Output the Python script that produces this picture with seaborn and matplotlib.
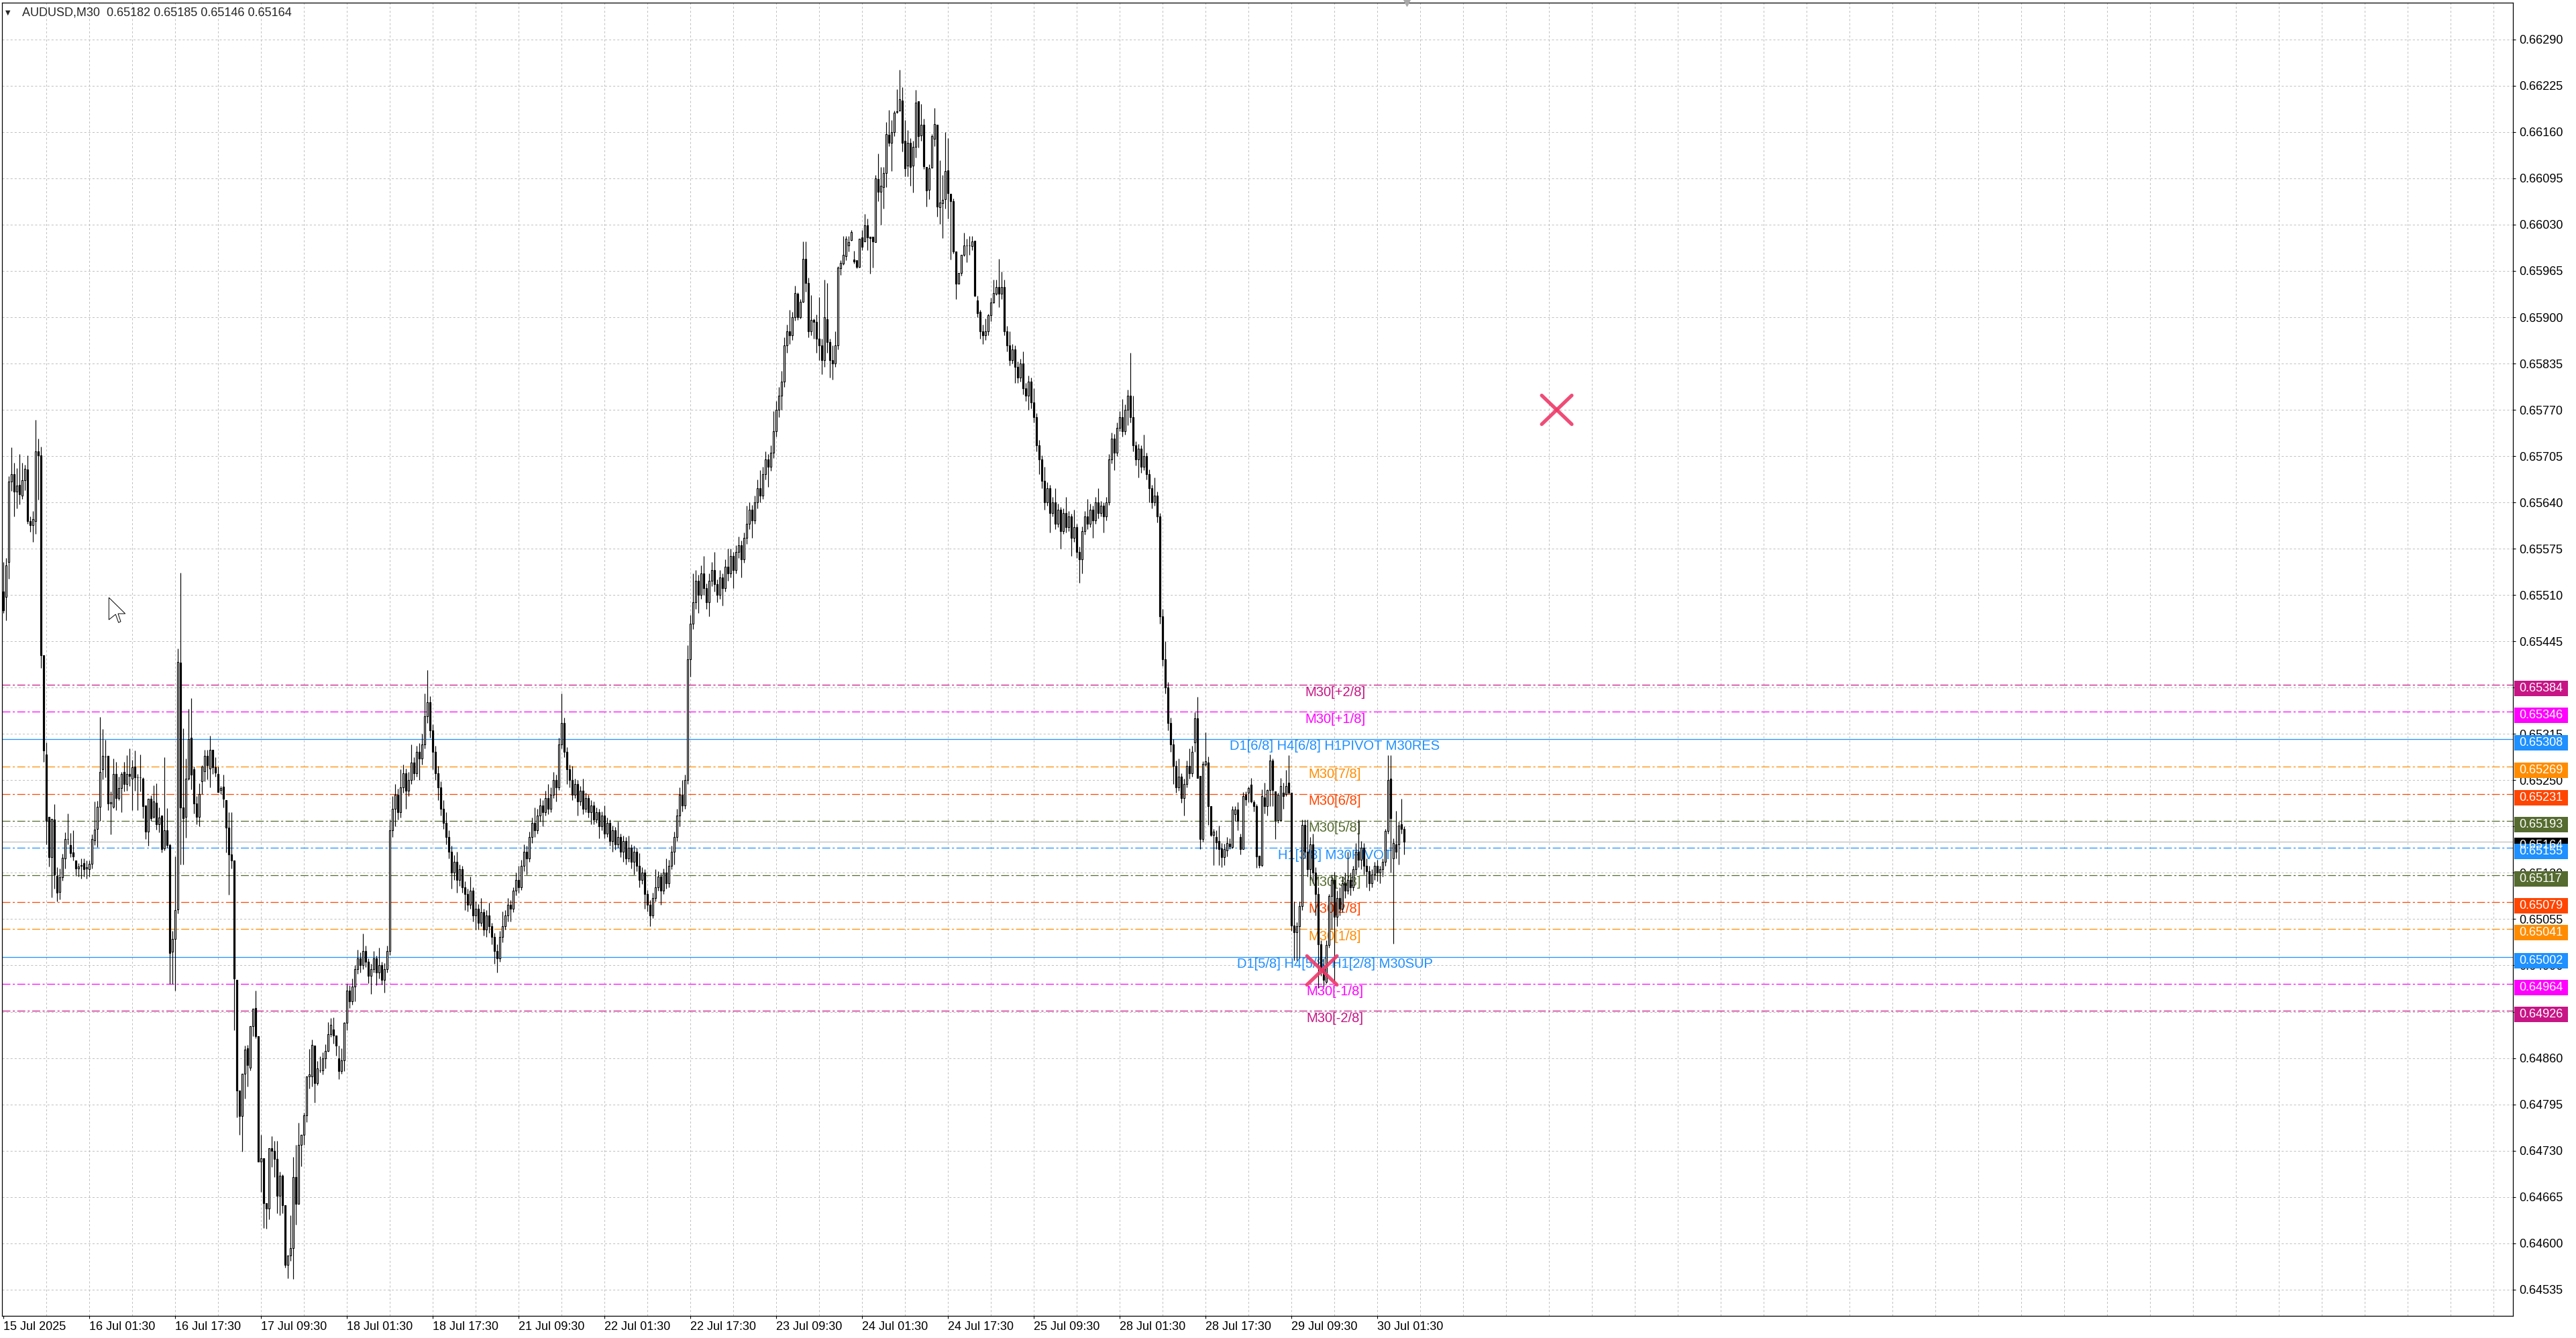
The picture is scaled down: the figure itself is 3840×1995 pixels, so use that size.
import numpy as np
import pandas as pd
import matplotlib
matplotlib.use("Agg")
import matplotlib.pyplot as plt
import matplotlib.transforms as mtransforms
from matplotlib.patches import Polygon, Rectangle
import seaborn as sns

# ==========================================
# 数据：AUDUSD M30 K线 (价格 = 0.64 + 值 * 0.00001)
# ==========================================
title_text = "AUDUSD,M30  0.65182 0.65185 0.65146 0.65164"

open_pts = [
    1515, 1507, 1556, 1669, 1680, 1655, 1665, 1650, 1671, 1686,
    1614, 1608, 1614, 1712, 1706, 1425, 1286, 1199, 1142, 1195,
    1116, 1093, 1114, 1140, 1167, 1159, 1149, 1137, 1126, 1130,
    1134, 1126, 1125, 1133, 1166, 1182, 1213, 1265, 1283, 1284,
    1217, 1213, 1259, 1225, 1239, 1262, 1245, 1259, 1252, 1269,
    1254, 1254, 1252, 1215, 1178, 1224, 1199, 1218, 1188, 1200,
    1154, 1180, 1159, 1009, 1027, 1069, 1415, 1212, 1199, 1252,
    1310, 1265, 1217, 1199, 1248, 1263, 1284, 1266, 1293, 1268,
    1259, 1236, 1241, 1222, 1183, 1146, 1137, 970, 814, 779,
    838, 874, 846, 905, 930, 891, 715, 719, 656, 649,
    733, 730, 718, 667, 695, 653, 570, 583, 593, 693,
    655, 738, 752, 780, 834, 834, 877, 825, 843, 843,
    860, 870, 893, 900, 892, 860, 842, 857, 909, 955,
    940, 960, 985, 1000, 990, 1010, 995, 975, 985, 1000,
    980, 990, 970, 985, 1010, 1180, 1210, 1230, 1205, 1240,
    1260, 1235, 1250, 1275, 1260, 1290, 1280, 1300, 1340, 1360,
    1320, 1290, 1260, 1240, 1210, 1190, 1170, 1150, 1120, 1135,
    1110, 1125, 1100, 1090, 1075, 1095, 1060, 1070, 1050, 1065,
    1040, 1060, 1045, 1030, 1010, 1000, 1030, 1045, 1060, 1075,
    1070, 1095, 1110, 1100, 1130, 1150, 1140, 1170, 1190, 1180,
    1200, 1215, 1205, 1225, 1210, 1230, 1250, 1240, 1300, 1330,
    1290, 1265, 1250, 1230, 1245, 1220, 1235, 1210, 1225, 1205,
    1215, 1195, 1205, 1185, 1200, 1175, 1190, 1165, 1180, 1160,
    1170, 1150, 1165, 1140, 1155, 1135, 1150, 1130, 1110, 1120,
    1090, 1075, 1060, 1085, 1100, 1115, 1095, 1120, 1105, 1130,
    1150, 1170, 1200, 1230, 1215, 1250, 1420, 1470, 1500, 1530,
    1510, 1540, 1520, 1500, 1530, 1545, 1525, 1510, 1535, 1520,
    1550, 1540, 1565, 1545, 1570, 1580, 1560, 1590, 1610, 1630,
    1615, 1640, 1660, 1650, 1680, 1700, 1690, 1710, 1740, 1770,
    1790, 1810, 1860, 1880, 1875, 1900, 1933, 1900, 1922, 1982,
    1948, 1880, 1896, 1893, 1870, 1860, 1840, 1897, 1865, 1840,
    1835, 1860, 1969, 1975, 1986, 2001, 2008, 1981, 1980, 1971,
    2012, 2006, 2029, 2013, 2013, 2005, 2094, 2076, 2083, 2102,
    2156, 2145, 2160, 2188, 2190, 2204, 2148, 2113, 2145, 2113,
    2139, 2203, 2155, 2170, 2111, 2079, 2110, 2150, 2170, 2054,
    2060, 2066, 2106, 2073, 2063, 1992, 1947, 1962, 1988, 2001,
    2001, 2000, 2007, 1924, 1908, 1880, 1875, 1880, 1903, 1921,
    1933, 1942, 1933, 1942, 1880, 1860, 1840, 1855, 1830, 1815,
    1835, 1800, 1790, 1810, 1780, 1760, 1720, 1700, 1670, 1640,
    1660, 1625, 1640, 1610, 1630, 1600, 1625, 1605, 1620, 1590,
    1605, 1570, 1560, 1600, 1620, 1610, 1630, 1615, 1640, 1625,
    1635, 1620, 1640, 1700, 1730, 1710, 1745, 1760, 1740, 1770,
    1790, 1760, 1720, 1700, 1715, 1690, 1705, 1680, 1660, 1640,
    1650, 1620, 1480, 1420, 1380, 1330, 1300, 1270, 1240, 1255,
    1225, 1245, 1270, 1260, 1303, 1337, 1256, 1167, 1272, 1275,
    1214, 1173, 1170, 1165, 1154, 1142, 1151, 1161, 1156, 1202,
    1209, 1170, 1153, 1230, 1232, 1244, 1219, 1214, 1144, 1131,
    1226, 1214, 1236, 1278, 1234, 1194, 1194, 1232, 1231, 1247,
    1232, 1046, 1037, 1045, 1073, 1187, 1150, 1125, 1160, 1120,
    1090, 1020, 985, 967, 1019, 1087, 1110, 1058, 1085, 1070,
    1105, 1095, 1110, 1100, 1125, 1150, 1138, 1155, 1130, 1122,
    1105, 1118, 1130, 1120, 1125, 1135, 1179, 1252, 1140, 1160,
    1160, 1188, 1182]
high_pts = [
    1556, 1562, 1677, 1717, 1696, 1688, 1708, 1696, 1693, 1706,
    1620, 1628, 1756, 1730, 1718, 1425, 1303, 1199, 1196, 1216,
    1128, 1126, 1147, 1177, 1203, 1176, 1180, 1137, 1134, 1140,
    1140, 1137, 1137, 1174, 1220, 1221, 1339, 1322, 1307, 1284,
    1234, 1280, 1276, 1255, 1262, 1276, 1285, 1295, 1279, 1292,
    1259, 1286, 1254, 1215, 1224, 1229, 1243, 1246, 1212, 1200,
    1282, 1211, 1161, 1038, 1143, 1435, 1541, 1323, 1280, 1350,
    1365, 1269, 1228, 1246, 1271, 1293, 1293, 1312, 1293, 1282,
    1269, 1242, 1258, 1222, 1205, 1205, 1137, 970, 814, 838,
    877, 878, 905, 929, 955, 891, 752, 719, 656, 733,
    750, 744, 744, 700, 697, 653, 583, 639, 721, 738,
    769, 752, 783, 834, 873, 886, 877, 856, 862, 868,
    879, 910, 916, 917, 892, 877, 874, 910, 964, 962,
    972, 990, 1012, 1008, 1035, 1018, 1000, 992, 1010, 1004,
    1015, 995, 993, 1018, 1195, 1228, 1245, 1238, 1265, 1272,
    1266, 1262, 1300, 1282, 1298, 1302, 1315, 1372, 1405, 1368,
    1328, 1298, 1270, 1248, 1222, 1205, 1180, 1158, 1145, 1150,
    1132, 1130, 1108, 1098, 1115, 1100, 1080, 1076, 1085, 1070,
    1068, 1078, 1050, 1036, 1020, 1038, 1066, 1068, 1085, 1082,
    1100, 1120, 1130, 1138, 1160, 1158, 1178, 1198, 1212, 1210,
    1225, 1222, 1235, 1245, 1240, 1262, 1258, 1310, 1372, 1338,
    1296, 1272, 1270, 1252, 1250, 1242, 1252, 1232, 1230, 1222,
    1220, 1212, 1210, 1206, 1215, 1198, 1195, 1186, 1184, 1192,
    1175, 1172, 1170, 1172, 1160, 1158, 1155, 1148, 1128, 1125,
    1096, 1082, 1092, 1125, 1122, 1120, 1126, 1140, 1138, 1158,
    1178, 1210, 1240, 1250, 1258, 1440, 1482, 1540, 1545, 1538,
    1552, 1565, 1526, 1540, 1556, 1570, 1532, 1545, 1540, 1560,
    1575, 1575, 1570, 1580, 1592, 1586, 1598, 1635, 1640, 1636,
    1650, 1672, 1685, 1690, 1712, 1708, 1720, 1768, 1782, 1802,
    1825, 1872, 1890, 1910, 1908, 1944, 1935, 1925, 2006, 2006,
    1956, 1931, 1898, 1904, 1928, 1870, 1953, 1948, 1870, 1860,
    1880, 1972, 1980, 2014, 2014, 2014, 2022, 1993, 1980, 2010,
    2022, 2045, 2038, 2013, 2013, 2100, 2130, 2111, 2111, 2174,
    2191, 2177, 2190, 2220, 2247, 2223, 2177, 2163, 2151, 2148,
    2219, 2203, 2199, 2179, 2111, 2115, 2157, 2194, 2170, 2120,
    2100, 2160, 2151, 2073, 2067, 1992, 1962, 1988, 2019, 2010,
    2014, 2014, 2007, 1930, 1910, 1890, 1898, 1905, 1927, 1953,
    1953, 1982, 1964, 1953, 1888, 1880, 1862, 1860, 1838, 1842,
    1852, 1808, 1818, 1815, 1800, 1765, 1728, 1706, 1690, 1668,
    1665, 1648, 1660, 1638, 1634, 1632, 1648, 1628, 1624, 1630,
    1610, 1578, 1606, 1628, 1645, 1638, 1635, 1648, 1660, 1642,
    1640, 1648, 1708, 1738, 1736, 1752, 1768, 1785, 1778, 1798,
    1850, 1790, 1726, 1722, 1720, 1735, 1710, 1686, 1665, 1675,
    1655, 1625, 1490, 1445, 1388, 1338, 1308, 1278, 1280, 1260,
    1252, 1278, 1295, 1298, 1345, 1367, 1256, 1277, 1317, 1283,
    1214, 1182, 1180, 1186, 1162, 1161, 1170, 1168, 1214, 1214,
    1219, 1175, 1233, 1234, 1241, 1253, 1222, 1216, 1144, 1237,
    1247, 1237, 1286, 1280, 1234, 1232, 1253, 1247, 1264, 1285,
    1232, 1080, 1051, 1080, 1195, 1195, 1195, 1170, 1175, 1128,
    1100, 1025, 1000, 1025, 1090, 1118, 1121, 1095, 1100, 1115,
    1120, 1150, 1120, 1130, 1162, 1195, 1165, 1162, 1140, 1130,
    1125, 1135, 1138, 1130, 1140, 1182, 1285, 1285, 1168, 1207,
    1192, 1224, 1185]
low_pts = [
    1485, 1474, 1533, 1656, 1620, 1632, 1637, 1645, 1657, 1610,
    1599, 1585, 1596, 1644, 1408, 1276, 1160, 1129, 1086, 1098,
    1080, 1083, 1109, 1126, 1160, 1142, 1137, 1116, 1115, 1112,
    1115, 1112, 1115, 1126, 1159, 1156, 1193, 1251, 1254, 1208,
    1174, 1211, 1208, 1222, 1205, 1234, 1235, 1242, 1208, 1235,
    1208, 1234, 1197, 1167, 1158, 1193, 1197, 1181, 1177, 1149,
    1151, 1155, 964, 964, 955, 1063, 1132, 1132, 1169, 1250,
    1237, 1203, 1188, 1185, 1231, 1248, 1251, 1240, 1259, 1255,
    1233, 1231, 1212, 1149, 1089, 1126, 899, 777, 752, 729,
    803, 820, 843, 891, 888, 715, 672, 621, 620, 634,
    707, 693, 642, 639, 642, 566, 551, 575, 550, 626,
    655, 708, 738, 770, 817, 820, 797, 822, 840, 837,
    845, 869, 890, 880, 863, 830, 838, 842, 899, 930,
    935, 940, 978, 980, 985, 988, 965, 950, 980, 962,
    972, 963, 952, 980, 1005, 1170, 1185, 1195, 1198, 1232,
    1210, 1228, 1245, 1250, 1255, 1250, 1272, 1295, 1330, 1310,
    1265, 1250, 1222, 1200, 1182, 1160, 1140, 1098, 1110, 1092,
    1102, 1092, 1068, 1066, 1070, 1052, 1040, 1040, 1045, 1032,
    1030, 1036, 1020, 992, 980, 995, 1022, 1040, 1052, 1052,
    1065, 1088, 1092, 1096, 1122, 1118, 1135, 1162, 1170, 1175,
    1192, 1185, 1200, 1202, 1205, 1225, 1220, 1236, 1295, 1282,
    1245, 1240, 1222, 1225, 1200, 1215, 1202, 1205, 1198, 1188,
    1188, 1190, 1168, 1180, 1168, 1170, 1158, 1150, 1152, 1155,
    1142, 1135, 1132, 1135, 1126, 1118, 1122, 1100, 1104, 1070,
    1066, 1045, 1056, 1080, 1095, 1075, 1090, 1098, 1100, 1125,
    1132, 1165, 1185, 1206, 1210, 1245, 1395, 1462, 1490, 1485,
    1505, 1510, 1490, 1480, 1522, 1515, 1500, 1505, 1495, 1515,
    1530, 1535, 1520, 1540, 1562, 1535, 1555, 1582, 1602, 1590,
    1610, 1632, 1640, 1645, 1672, 1662, 1684, 1702, 1732, 1760,
    1770, 1802, 1850, 1862, 1868, 1895, 1896, 1898, 1921, 1936,
    1872, 1875, 1870, 1850, 1840, 1820, 1830, 1850, 1815, 1812,
    1830, 1855, 1959, 1973, 1980, 1992, 2007, 1975, 1969, 1970,
    1994, 2006, 1994, 1961, 1970, 2005, 2063, 2030, 2053, 2083,
    2140, 2105, 2154, 2186, 2190, 2133, 2098, 2098, 2085, 2075,
    2124, 2138, 2148, 2108, 2055, 2066, 2110, 2140, 2041, 2031,
    2011, 2053, 2038, 1981, 1989, 1925, 1947, 1958, 1986, 1977,
    1988, 1994, 1929, 1900, 1870, 1862, 1868, 1875, 1894, 1920,
    1931, 1914, 1925, 1875, 1852, 1832, 1835, 1808, 1808, 1810,
    1792, 1782, 1770, 1772, 1752, 1712, 1680, 1660, 1630, 1635,
    1598, 1620, 1602, 1605, 1575, 1596, 1598, 1600, 1565, 1585,
    1562, 1527, 1540, 1595, 1602, 1605, 1590, 1610, 1618, 1620,
    1598, 1615, 1636, 1695, 1685, 1705, 1740, 1732, 1735, 1748,
    1752, 1712, 1692, 1675, 1682, 1685, 1672, 1640, 1632, 1635,
    1612, 1470, 1410, 1372, 1320, 1290, 1245, 1232, 1235, 1218,
    1200, 1240, 1252, 1255, 1290, 1253, 1153, 1164, 1270, 1187,
    1171, 1131, 1153, 1131, 1128, 1131, 1143, 1153, 1154, 1193,
    1180, 1146, 1153, 1215, 1219, 1218, 1206, 1127, 1127, 1129,
    1203, 1200, 1214, 1214, 1167, 1190, 1194, 1210, 1228, 1231,
    1038, 997, 997, 1000, 1068, 1140, 1115, 1110, 1105, 1060,
    958, 975, 960, 965, 1015, 1040, 968, 1045, 1060, 1065,
    1085, 1090, 1088, 1095, 1118, 1128, 1125, 1118, 1100, 1095,
    1100, 1110, 1108, 1105, 1115, 1130, 1175, 1120, 1021, 1140,
    1132, 1175, 1146]
close_pts = [
    1489, 1552, 1669, 1680, 1655, 1664, 1651, 1671, 1687, 1614,
    1608, 1617, 1712, 1706, 1425, 1292, 1193, 1142, 1196, 1118,
    1092, 1114, 1141, 1167, 1167, 1148, 1143, 1126, 1129, 1131,
    1125, 1128, 1133, 1167, 1181, 1213, 1262, 1284, 1283, 1217,
    1219, 1259, 1225, 1239, 1259, 1245, 1259, 1256, 1268, 1254,
    1254, 1254, 1214, 1178, 1224, 1197, 1220, 1188, 1198, 1153,
    1180, 1159, 1007, 1027, 1068, 1416, 1212, 1197, 1252, 1308,
    1258, 1217, 1199, 1231, 1269, 1284, 1271, 1293, 1268, 1261,
    1233, 1239, 1224, 1183, 1146, 1137, 972, 814, 779, 838,
    872, 850, 905, 929, 891, 715, 719, 656, 649, 733,
    730, 718, 667, 695, 653, 570, 583, 593, 693, 655,
    738, 752, 780, 834, 837, 878, 825, 845, 843, 860,
    870, 893, 907, 892, 877, 842, 857, 909, 955, 940,
    960, 985, 1000, 990, 1010, 995, 975, 985, 1000, 980,
    990, 970, 985, 1010, 1180, 1210, 1230, 1205, 1240, 1260,
    1235, 1250, 1275, 1260, 1290, 1280, 1300, 1340, 1360, 1320,
    1290, 1260, 1240, 1210, 1190, 1170, 1150, 1120, 1135, 1110,
    1125, 1100, 1090, 1075, 1095, 1060, 1070, 1050, 1065, 1040,
    1060, 1045, 1030, 1010, 1000, 1030, 1045, 1060, 1075, 1070,
    1095, 1110, 1100, 1130, 1150, 1140, 1170, 1190, 1180, 1200,
    1215, 1205, 1225, 1210, 1230, 1250, 1240, 1300, 1330, 1290,
    1265, 1250, 1230, 1245, 1220, 1235, 1210, 1225, 1205, 1215,
    1195, 1205, 1185, 1200, 1175, 1190, 1165, 1180, 1160, 1170,
    1150, 1165, 1140, 1155, 1135, 1150, 1130, 1110, 1120, 1090,
    1075, 1060, 1085, 1100, 1115, 1095, 1120, 1105, 1130, 1150,
    1170, 1200, 1230, 1215, 1250, 1420, 1470, 1500, 1530, 1510,
    1540, 1520, 1500, 1530, 1545, 1525, 1510, 1535, 1520, 1550,
    1540, 1565, 1545, 1570, 1580, 1560, 1590, 1610, 1630, 1615,
    1640, 1660, 1650, 1680, 1700, 1690, 1710, 1740, 1770, 1790,
    1810, 1860, 1880, 1875, 1900, 1934, 1900, 1922, 1982, 1948,
    1880, 1896, 1893, 1870, 1860, 1840, 1900, 1865, 1840, 1835,
    1860, 1970, 1976, 1988, 2010, 2005, 2020, 1978, 1971, 2010,
    1999, 2029, 2012, 2011, 2006, 2095, 2076, 2085, 2102, 2157,
    2145, 2160, 2187, 2189, 2206, 2145, 2109, 2145, 2111, 2139,
    2201, 2154, 2170, 2112, 2078, 2109, 2154, 2171, 2055, 2061,
    2065, 2105, 2074, 2063, 1992, 1947, 1962, 1988, 2001, 2001,
    2001, 2006, 1930, 1906, 1880, 1875, 1880, 1903, 1921, 1934,
    1942, 1933, 1942, 1880, 1860, 1840, 1855, 1830, 1815, 1835,
    1800, 1790, 1810, 1780, 1760, 1720, 1700, 1670, 1640, 1660,
    1625, 1640, 1610, 1630, 1600, 1625, 1605, 1620, 1590, 1605,
    1570, 1560, 1600, 1620, 1610, 1630, 1615, 1640, 1625, 1635,
    1620, 1640, 1700, 1730, 1710, 1745, 1760, 1740, 1770, 1790,
    1760, 1720, 1700, 1715, 1690, 1705, 1680, 1660, 1640, 1650,
    1620, 1480, 1420, 1380, 1330, 1300, 1270, 1240, 1255, 1225,
    1245, 1270, 1260, 1290, 1337, 1253, 1167, 1273, 1277, 1214,
    1173, 1178, 1163, 1153, 1142, 1153, 1162, 1157, 1209, 1209,
    1193, 1153, 1228, 1223, 1239, 1220, 1214, 1143, 1131, 1228,
    1214, 1236, 1278, 1236, 1194, 1230, 1242, 1228, 1242, 1232,
    1046, 1037, 1045, 1073, 1187, 1150, 1125, 1160, 1120, 1090,
    1020, 985, 970, 1019, 1087, 1110, 1058, 1085, 1070, 1105,
    1095, 1110, 1100, 1125, 1150, 1138, 1155, 1130, 1122, 1105,
    1118, 1130, 1120, 1125, 1135, 1179, 1250, 1197, 1162, 1150,
    1186, 1182, 1164]

date_labels = ["15 Jul 2025", "16 Jul 01:30", "16 Jul 17:30", "17 Jul 09:30",
               "18 Jul 01:30", "18 Jul 17:30", "21 Jul 09:30", "22 Jul 01:30",
               "22 Jul 17:30", "23 Jul 09:30", "24 Jul 01:30", "24 Jul 17:30",
               "25 Jul 09:30", "28 Jul 01:30", "28 Jul 17:30", "29 Jul 09:30",
               "30 Jul 01:30"]
price_ticks = [0.64535, 0.64600, 0.64665, 0.64730, 0.64795, 0.64860, 0.64925,
               0.64990, 0.65055, 0.65120, 0.65185, 0.65250, 0.65315, 0.65380,
               0.65445, 0.65510, 0.65575, 0.65640, 0.65705, 0.65770, 0.65835,
               0.65900, 0.65965, 0.66030, 0.66095, 0.66160, 0.66225, 0.66290]

level_prices = [0.65384, 0.65346, 0.65308, 0.65269, 0.65231, 0.65193, 0.65155,
                0.65117, 0.65079, 0.65041, 0.65002, 0.64964, 0.64926]
level_names = ["M30[+2/8]", "M30[+1/8]", "D1[6/8] H4[6/8] H1PIVOT M30RES",
               "M30[7/8]", "M30[6/8]", "M30[5/8]", "H1[3/8] M30PIVOT",
               "M30[3/8]", "M30[2/8]", "M30[1/8]",
               "D1[5/8] H4[5/8] H1[2/8] M30SUP", "M30[-1/8]", "M30[-2/8]"]
level_colors = ["#C71585", "#FF00FF", "#1E90FF", "#FF8C00", "#FF4500", "#556B2F",
                "#1E90FF", "#556B2F", "#FF4500", "#FF8C00", "#1E90FF", "#FF00FF",
                "#C71585"]
level_solid = [False, False, True, False, False, False, False,
               False, False, False, True, False, False]
bid_price = 0.65164

# X 标记 (bar 序号, 价格)
cross_marks = [(578.9, 0.65770), (491.4, 0.64983)]

# ==========================================
# 整理数据
# ==========================================
base = 0.64
df = pd.DataFrame({"open": open_pts, "high": high_pts,
                   "low": low_pts, "close": close_pts}) * 1e-5 + base
df["bar"] = np.arange(len(df))
df["up"] = df["close"] >= df["open"]

# ==========================================
# 绘图
# ==========================================
sns.set_style("white")
plt.rcParams["font.family"] = ["Liberation Sans", "DejaVu Sans"]
plt.rcParams["lines.scale_dashes"] = False

W, H = 3840, 1995
fig = plt.figure(figsize=(W / 100, H / 100), dpi=100)
ax = fig.add_axes([3 / W, 33 / H, 3743 / W, 1958 / H])
y_lo, y_hi = 0.644980, 0.663416
ax.set_xlim(-0.5, 935.25)
ax.set_ylim(y_lo, y_hi)
px = (y_hi - y_lo) / 1958  # 每像素价格

grid_kw = dict(color="#C0C0C0", lw=0.72, dashes=(2.2, 2.2), zorder=0)
for t in price_ticks:
    ax.axhline(t, **grid_kw)
for b in range(16, 936, 16):
    ax.axvline(b, **grid_kw)

# 水平位线
dashdot = (8.6, 2.6, 2.2, 2.6)
for p, c, s in zip(level_prices, level_colors, level_solid):
    if s:
        ax.axhline(p, color=c, lw=0.9, zorder=1)
    else:
        ax.axhline(p, color=c, lw=0.9, dashes=dashdot, zorder=1)
ax.axhline(bid_price, color="#BEBEBE", lw=0.9, zorder=1)

# 位线文字 (在K线后面)
for p, n, c in zip(level_prices, level_names, level_colors):
    ax.text(496.25, p - 11 * px, n, color=c, fontsize=14.5,
            ha="center", va="center", zorder=2)

# K线
ax.vlines(df["bar"], df["low"], df["high"], color="black", lw=0.85, zorder=4)
up = df[df["up"]]
dn = df[~df["up"]]
ax.bar(up["bar"], up["close"] - up["open"], bottom=up["open"], width=0.62,
       color="white", edgecolor="black", linewidth=0.85, zorder=5)
ax.bar(dn["bar"], dn["open"] - dn["close"], bottom=dn["close"], width=0.62,
       color="black", edgecolor="black", linewidth=0.85, zorder=5)

# 粉色 X
for bx, by in cross_marks:
    d_bar, d_p = 5.6, 21.5 * px
    for sgn in (1, -1):
        ax.plot([bx - d_bar, bx + d_bar], [by - sgn * d_p, by + sgn * d_p],
                color="#EE3868", lw=3.8, solid_capstyle="round", alpha=0.9,
                zorder=8)

# 顶部小三角 (图表偏移标记)
ax.plot([523], [y_hi], marker="v", color="#A8A8A8", ms=7, clip_on=False, zorder=9)

# 坐标轴
for s in ax.spines.values():
    s.set_color("black")
    s.set_linewidth(0.9)
ax.yaxis.tick_right()
ax.set_yticks(price_ticks)
ax.set_yticklabels([f"{t:.5f}" for t in price_ticks])
ax.tick_params(axis="y", right=True, left=False, length=3, width=0.8,
               pad=4, labelsize=13, labelcolor="black", colors="black")
ax.set_xticks(np.arange(len(date_labels)) * 32)
ax.set_xticklabels(date_labels)
ax.tick_params(axis="x", bottom=True, length=3, width=0.8, pad=3,
               labelsize=13, colors="black")
for lab in ax.get_xticklabels():
    lab.set_ha("left")

# 右侧彩色价格框
blend = mtransforms.blended_transform_factory(ax.transAxes, ax.transData)
box_h = 23 * px
box_x0 = (3748 - 3) / 3743
box_w = 80 / 3743
txt_x = (3755 - 3) / 3743
boxes = [(bid_price, "black")] + list(zip(level_prices, level_colors))
order = [1, 2, 3, 4, 5, 6, 0, 7, 8, 9, 10, 11, 12, 13]
for k in order:
    p, c = boxes[k]
    yc = p - 5.5 * px
    ax.add_patch(Rectangle((box_x0, yc - box_h / 2), box_w, box_h,
                           transform=blend, facecolor=c, edgecolor="none",
                           clip_on=False, zorder=10))
    ax.text(txt_x, yc, f"{p:.5f}", transform=blend, color="white",
            fontsize=13, ha="left", va="center", clip_on=False, zorder=11)

# 标题
fig.text(8 / W, 1 - 19 / H, "▼", fontsize=7, family="DejaVu Sans",
         va="center", ha="left")
fig.text(33 / W, 1 - 19 / H, title_text, fontsize=13, va="center", ha="left")

# 鼠标指针
cur = np.array([(162.3, 891), (162.3, 924), (172.3, 916), (176.7, 928.3),
                (180, 926.7), (176, 915), (186.7, 915)])
cur[:, 1] = H - cur[:, 1]
fig.add_artist(Polygon(cur, closed=True, facecolor="white", edgecolor="black",
                       lw=0.7, transform=mtransforms.IdentityTransform(),
                       zorder=12))

fig.savefig("out.png", dpi=100, facecolor="white")
